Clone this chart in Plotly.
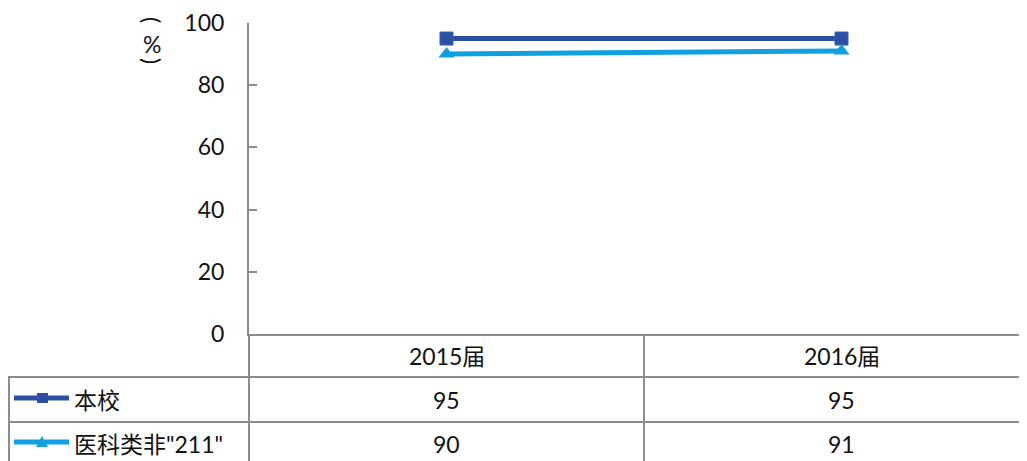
import plotly.graph_objects as go

categories = ["2015届", "2016届"]
series_names = ["本校", "医科类非\"211\""]
values_school = [95, 95]
values_peer = [90, 91]
y_ticks = [0, 20, 40, 60, 80, 100]

W, H = 1027, 461
OFF = 8  # page body margin offset
FONT = "Lato, 'Noto Sans CJK SC', sans-serif"
FS = 23
DARK = "#2B4FA2"
LIGHT = "#0EA0E0"
GRID = "#8C8C8C"
TXT = "#111111"

def px(x):
    return (x - OFF) / W

def py(y):
    return 1 - (y - OFF) / H

plot_left, plot_top, plot_bottom = 249, 23, 334
x_range = [-0.5, 1.47]
band_px = 395.0

fig = go.Figure()
fig.add_trace(go.Scatter(
    x=categories, y=values_school, mode="lines+markers", name=series_names[0],
    line=dict(color=DARK, width=5),
    marker=dict(symbol="square", size=13, color=DARK, line=dict(color="#3A5FB5", width=1)),
))
fig.add_trace(go.Scatter(
    x=categories, y=values_peer, mode="lines+markers", name=series_names[1],
    line=dict(color=LIGHT, width=5),
    marker=dict(symbol="triangle-up", size=14, color=LIGHT),
))

plot_right_px = plot_left + band_px * (x_range[1] - x_range[0])

fig.update_layout(
    width=W, height=H,
    margin=dict(l=0, r=0, t=0, b=0, pad=0),
    paper_bgcolor="white", plot_bgcolor="white",
    showlegend=False,
    font=dict(family=FONT, size=FS, color=TXT),
    xaxis=dict(
        domain=[px(plot_left), min(1, px(plot_right_px))],
        type="category", range=x_range, automargin=False,
        showticklabels=False, ticks="", showgrid=False, zeroline=False,
        showline=True, linecolor=GRID, linewidth=2,
    ),
    yaxis=dict(
        domain=[py(plot_bottom), py(plot_top)],
        range=[0, 100], tickvals=y_ticks, automargin=False,
        ticks="inside", ticklen=8, tickcolor=GRID, tickwidth=2,
        showgrid=False, zeroline=False,
        showline=True, linecolor=GRID, linewidth=2,
        tickfont=dict(size=FS, color=TXT), ticklabelstandoff=18,
    ),
)

# y-axis title (vertical stacked): rotated parentheses around upright %
title_x = 152
fig.add_annotation(x=px(title_x), y=py(20), xref="paper", yref="paper", text="(",
                   textangle=90, showarrow=False, xanchor="center", yanchor="middle",
                   font=dict(size=FS, color=TXT))
fig.add_annotation(x=px(title_x), y=py(44), xref="paper", yref="paper", text="%",
                   showarrow=False, xanchor="center", yanchor="middle",
                   font=dict(size=FS, color=TXT))
fig.add_annotation(x=px(title_x), y=py(61), xref="paper", yref="paper", text=")",
                   textangle=90, showarrow=False, xanchor="center", yanchor="middle",
                   font=dict(size=FS, color=TXT))

# data table grid
row_lines = [377, 422]
table_bottom = 475
shapes = []
line_style = dict(color=GRID, width=2)
for ry in row_lines:
    shapes.append(dict(type="line", xref="paper", yref="paper",
                       x0=px(8), x1=1, y0=py(ry), y1=py(ry), line=line_style))
shapes.append(dict(type="line", xref="paper", yref="paper",
                   x0=px(plot_left), x1=px(plot_left), y0=py(plot_bottom), y1=py(table_bottom), line=line_style))
shapes.append(dict(type="line", xref="paper", yref="paper",
                   x0=px(9), x1=px(9), y0=py(row_lines[0]), y1=py(table_bottom), line=line_style))
for i in range(len(categories) - 1):
    xb = plot_left + band_px * (i + 0.5 - x_range[0])
    shapes.append(dict(type="line", xref="paper", yref="paper",
                       x0=px(xb), x1=px(xb), y0=py(plot_bottom), y1=py(table_bottom), line=line_style))

# legend keys
key_rows = [(398, DARK, "square"), (442, LIGHT, "triangle")]
for ky, col, kind in key_rows:
    shapes.append(dict(type="line", xref="paper", yref="paper",
                       x0=px(14), x1=px(69), y0=py(ky), y1=py(ky),
                       line=dict(color=col, width=5)))
    if kind == "square":
        shapes.append(dict(type="rect", xref="paper", yref="paper",
                           x0=px(37), x1=px(48), y0=py(ky + 5), y1=py(ky - 5),
                           fillcolor=col, line=dict(width=0)))
    else:
        path = "M {} {} L {} {} L {} {} Z".format(px(36), py(ky + 5), px(48), py(ky + 5), px(42), py(ky - 6))
        shapes.append(dict(type="path", xref="paper", yref="paper", path=path,
                           fillcolor=col, line=dict(width=0)))
fig.update_layout(shapes=shapes)

# header row
header_y = 356
for i, c in enumerate(categories):
    cx = plot_left + band_px * (i - x_range[0])
    fig.add_annotation(x=px(cx), y=py(header_y), xref="paper", yref="paper",
                       text=c, showarrow=False, xanchor="center", yanchor="middle",
                       font=dict(size=FS, color=TXT))

row_centers = [400, 444]
for name, vals, ry in zip(series_names, [values_school, values_peer], row_centers):
    fig.add_annotation(x=px(72), y=py(ry), xref="paper", yref="paper",
                       text=name, showarrow=False, xanchor="left", yanchor="middle",
                       font=dict(size=FS, color=TXT))
    for i, v in enumerate(vals):
        cx = plot_left + band_px * (i - x_range[0])
        fig.add_annotation(x=px(cx), y=py(ry), xref="paper", yref="paper",
                           text=str(v), showarrow=False, xanchor="center", yanchor="middle",
                           font=dict(size=FS, color=TXT))

fig.write_html("out.html")
